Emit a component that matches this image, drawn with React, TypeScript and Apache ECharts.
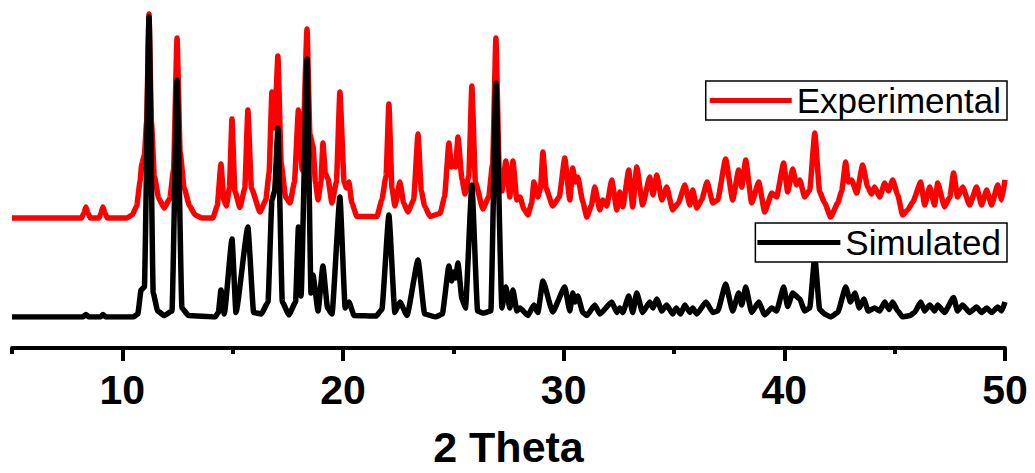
import React, { useEffect, useRef } from "react";
import * as echarts from "echarts";

// ---- data (2θ in degrees, relative intensity) ----
const majorTicks = [10, 20, 30, 40, 50];
const EXP_OFFSET = 33;

const simulated: [number, number][] = [
  [5.0, 0], [8.2, 0], [8.35, 0.8], [8.5, 0], [9.0, 0], [9.12, 0.8], [9.25, 0],
  [10.5, 0], [10.7, 1], [10.85, 9], [11.0, 10], [11.21, 100], [11.4, 8], [11.6, 2],
  [11.9, 0.5], [12.25, 2], [12.48, 79], [12.7, 3], [13.0, 0.5], [14.2, 0],
  [14.35, 1.5], [14.47, 9], [14.62, 1], [14.97, 26], [15.15, 1.5], [15.69, 30],
  [15.95, 1.5], [16.3, 1], [16.6, 5], [16.78, 39], [16.9, 42], [17.05, 63],
  [17.25, 5], [17.55, 0.7], [17.85, 5], [17.98, 30], [18.1, 7], [18.37, 86],
  [18.55, 8], [18.64, 14], [18.87, 2], [19.09, 17], [19.3, 3], [19.5, 1],
  [19.86, 40], [20.1, 3], [20.27, 5], [20.5, 0.5], [21.5, 0.3], [21.76, 2.5],
  [22.08, 34], [22.35, 1.5], [22.58, 5], [22.9, 0.5], [23.4, 19], [23.7, 1],
  [24.2, 0], [24.5, 1], [24.8, 17], [24.92, 12], [25.03, 15], [25.1, 13], [25.21, 18],
  [25.39, 6], [25.55, 3], [25.84, 44], [26.1, 2], [26.34, 1.3], [26.7, 2],
  [26.93, 78], [27.2, 3], [27.38, 10], [27.56, 3], [27.7, 9], [27.88, 2],
  [28.02, 3], [28.38, 0.5], [28.65, 4], [28.83, 1.5], [29.06, 12], [29.5, 1.7],
  [30.05, 10], [30.28, 2], [30.41, 8], [30.52, 5], [30.64, 7], [30.87, 1.5], [31.05, 0.5],
  [31.41, 4], [31.64, 1], [32.18, 5], [32.41, 1.5], [32.54, 3], [32.68, 1.5],
  [32.95, 7], [33.13, 1.5], [33.31, 8], [33.58, 1.5], [33.9, 5], [34.05, 3],
  [34.22, 6], [34.45, 2], [34.67, 4], [34.94, 1], [35.1, 3], [35.3, 1],
  [35.49, 4], [35.72, 1.5], [35.85, 3], [36.03, 1], [36.45, 5], [36.76, 1.5],
  [36.98, 2], [37.34, 11], [37.66, 2], [37.93, 8], [38.07, 4], [38.25, 10],
  [38.52, 1.5], [38.84, 5], [39.11, 0.7], [39.43, 3], [39.65, 2], [39.97, 10],
  [40.15, 3.5], [40.38, 8], [40.7, 6], [40.92, 2], [41.15, 3], [41.38, 20],
  [41.6, 2.5], [41.83, 1], [42.1, 0], [42.42, 1.5], [42.78, 10], [43.0, 5],
  [43.2, 8], [43.4, 3], [43.6, 6], [43.8, 2], [44.09, 3], [44.32, 2],
  [44.55, 5], [44.75, 2.5], [44.91, 5], [45.14, 2], [45.36, 0], [45.7, 0.5],
  [45.9, 1.5], [46.18, 5], [46.36, 2], [46.59, 4], [46.81, 2], [46.95, 4],
  [47.26, 1.5], [47.67, 6.5], [47.85, 2], [48.08, 4], [48.4, 1.5], [48.71, 3.3],
  [48.94, 1.5], [49.17, 3], [49.39, 1.5], [49.67, 3.3], [49.85, 2], [50.0, 5],
];

const experimental: [number, number][] = [
  [5.0, 0], [8.15, 0], [8.25, 1.5], [8.35, 3.7], [8.45, 1.5], [8.55, 0], [8.95, 0],
  [9.03, 1.5], [9.12, 3.7], [9.22, 1.5], [9.32, 0], [10.2, 0], [10.45, 1],
  [10.65, 4], [10.8, 12], [10.88, 18], [11.0, 21], [11.1, 32], [11.21, 68],
  [11.32, 32], [11.45, 14], [11.65, 6.5], [11.9, 3.3], [12.15, 6.5], [12.32, 16],
  [12.48, 60], [12.62, 22], [12.8, 10], [13.05, 4], [13.3, 1], [13.6, 0],
  [14.1, 0], [14.3, 4], [14.47, 18], [14.6, 6], [14.72, 4], [14.85, 10],
  [14.97, 33], [15.1, 9], [15.33, 3.5], [15.55, 10], [15.69, 36], [15.85, 10],
  [16.24, 2], [16.5, 6], [16.65, 15], [16.78, 42], [16.9, 30], [17.05, 54],
  [17.2, 18], [17.4, 7], [17.6, 5], [17.8, 12], [17.98, 36], [18.15, 16],
  [18.37, 63], [18.5, 28], [18.64, 24], [18.75, 12], [18.87, 6], [19.0, 12],
  [19.09, 25], [19.2, 15], [19.32, 13], [19.5, 5], [19.7, 12], [19.86, 42],
  [20.05, 12], [20.15, 10], [20.27, 12], [20.4, 5], [20.63, 0.5], [21.54, 0.5],
  [21.76, 6], [21.95, 14], [22.08, 38], [22.22, 10], [22.35, 4], [22.58, 12],
  [22.75, 5], [22.94, 2], [23.2, 6], [23.4, 28], [23.55, 9], [23.7, 4],
  [23.94, 0.5], [24.4, 1.5], [24.6, 7], [24.8, 25], [24.92, 17], [25.03, 18],
  [25.1, 17], [25.21, 27], [25.39, 13], [25.53, 8], [25.7, 14], [25.84, 44],
  [26.0, 12], [26.34, 3], [26.6, 7], [26.78, 18], [26.93, 60], [27.08, 16],
  [27.2, 9], [27.38, 19], [27.56, 7], [27.7, 19], [27.88, 6], [28.02, 7],
  [28.2, 3], [28.38, 1], [28.55, 5], [28.65, 12], [28.83, 7], [28.95, 10],
  [29.06, 22], [29.2, 10], [29.5, 4], [29.8, 7], [30.05, 20], [30.28, 6],
  [30.41, 16.7], [30.52, 12], [30.64, 13.7], [30.87, 5.3], [31.05, 0.3],
  [31.25, 4], [31.41, 10.3], [31.64, 2.7], [31.77, 6], [31.95, 4], [32.18, 12.7],
  [32.41, 2.7], [32.54, 8.7], [32.68, 3.7], [32.95, 16], [33.13, 3.7],
  [33.31, 17], [33.58, 4.3], [33.9, 13.7], [34.05, 7.7], [34.22, 14.3],
  [34.45, 6], [34.67, 10.3], [34.94, 2.7], [35.2, 5], [35.49, 11], [35.72, 4.3],
  [35.85, 9.3], [36.03, 3.3], [36.25, 6], [36.5, 12], [36.76, 5], [36.98, 6],
  [37.34, 19.7], [37.66, 6], [37.93, 16], [38.07, 10.3], [38.25, 19.3],
  [38.52, 5], [38.84, 12], [39.11, 2], [39.43, 8.3], [39.65, 7], [39.97, 18.3],
  [40.15, 8.7], [40.38, 16.3], [40.55, 11], [40.7, 12.7], [40.92, 7],
  [41.15, 9.3], [41.38, 28.3], [41.6, 8.7], [41.83, 5], [42.1, 0.3], [42.42, 5],
  [42.6, 9], [42.78, 18.7], [42.9, 12], [43.05, 12.7], [43.28, 8.3],
  [43.55, 17.7], [43.78, 10.3], [43.95, 8], [44.09, 10.3], [44.32, 7],
  [44.55, 11.7], [44.72, 9], [44.91, 12.7], [45.14, 7.7], [45.36, 1],
  [45.59, 2.7], [45.82, 5.3], [46.18, 12], [46.36, 4.3], [46.59, 10.3],
  [46.81, 4.3], [46.95, 11.7], [47.26, 3.7], [47.5, 7], [47.67, 15], [47.85, 7],
  [48.08, 10.3], [48.4, 4.3], [48.71, 10.3], [48.94, 4.3], [49.17, 9.3],
  [49.39, 4.3], [49.67, 11], [49.85, 6], [50.0, 12.7],
];

const FONT = "'Liberation Sans', Arial, sans-serif";

export default function App() {
  const ref = useRef<HTMLDivElement>(null);

  useEffect(() => {
    if (!ref.current) return;
    const chart = echarts.init(ref.current, undefined, { renderer: "svg" });
    const legendBase = {
      orient: "horizontal" as const,
      icon: "rect",
      itemHeight: 5,
      selectedMode: false,
      backgroundColor: "#fff",
      borderColor: "#000",
      borderWidth: 1.5,
      textStyle: { fontSize: 35, color: "#000", fontFamily: FONT, lineHeight: 37 },
    };
    const lineCommon = {
      type: "line" as const,
      xAxisIndex: 0,
      yAxisIndex: 0,
      showSymbol: false,
      symbol: "none",
      smooth: 0.15,
      smoothMonotone: "x" as const,
    };
    // main plot spans 5..50; a thin strip grid spanning 0..50 draws the major ticks as split lines
    const pxPerUnit = (1035 - 12 - 30) / 45;
    chart.setOption({
      animation: false,
      backgroundColor: "#fff",
      grid: [
        { left: 12, right: 30, top: 5, bottom: 156, outerBoundsMode: "none", containLabel: false },
        { left: 12 - 5 * pxPerUnit, right: 30, top: 348, bottom: 112, outerBoundsMode: "none", containLabel: false },
      ],
      legend: [
        { ...legendBase, data: ["Experimental"], right: 28, top: 81, itemWidth: 82, padding: [1, 6, 1, 4] },
        { ...legendBase, data: ["Simulated"], right: 28, top: 223, itemWidth: 83, padding: [1, 6, 1, 2] },
      ],
      xAxis: [
        {
          type: "value",
          gridIndex: 0,
          position: "bottom",
          min: 5,
          max: 50,
          interval: 5,
          offset: 31,
          name: "2 Theta",
          nameLocation: "middle",
          nameGap: 81,
          nameTextStyle: { fontSize: 43, lineHeight: 36, fontWeight: "bold", color: "#000", fontFamily: FONT },
          axisLine: { show: true, onZero: false, lineStyle: { color: "#000", width: 4 } },
          axisTick: { show: true, length: 6, lineStyle: { color: "#000", width: 4 } },
          axisLabel: {
            customValues: majorTicks,
            fontSize: 41,
            fontWeight: "bold",
            color: "#000",
            fontFamily: FONT,
            margin: 21,
          },
          splitLine: { show: false },
        },
        {
          type: "value",
          gridIndex: 1,
          position: "bottom",
          min: 0,
          max: 50,
          interval: 10,
          axisLine: { show: false, onZero: false },
          axisTick: { show: false },
          axisLabel: { show: false },
          splitLine: { show: true, lineStyle: { color: "#000", width: 4 } },
        },
      ],
      yAxis: [
        { type: "value", gridIndex: 0, min: 0, max: 104, show: false, splitLine: { show: false } },
        { type: "value", gridIndex: 1, min: 0, max: 1, show: false, splitLine: { show: false } },
      ],
      series: [
        {
          ...lineCommon,
          name: "Experimental",
          data: experimental.map(([x, y]) => [x, y + EXP_OFFSET]),
          color: "#ff0000",
          lineStyle: { color: "#ff0000", width: 5.5, join: "round" },
        },
        {
          ...lineCommon,
          name: "Simulated",
          data: simulated,
          color: "#000",
          lineStyle: { color: "#000", width: 5.5, join: "round" },
        },
      ],
    });
    return () => chart.dispose();
  }, []);

  return <div ref={ref} style={{ width: 1035, height: 473, position: "absolute", left: 0, top: 0 }} />;
}
